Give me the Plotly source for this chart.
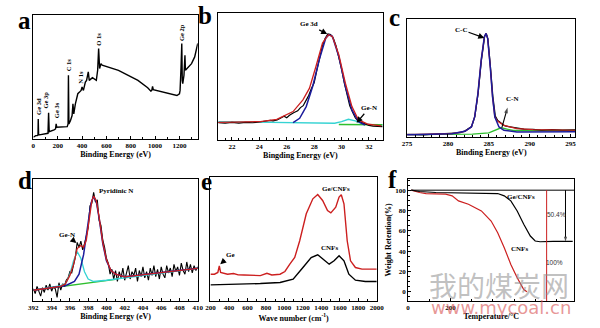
import plotly.graph_objects as go

# ---------------- (a) XPS survey ----------------
a_x = [0, 19, 32, 38, 40, 43, 60, 112, 120, 125, 130, 170, 182, 187, 192, 278, 285, 288, 292,
       305, 318, 325, 332, 345, 352, 365, 379, 392, 400, 411, 427, 437, 451, 459, 485, 499, 517,
       528, 536, 544, 555, 565, 619, 699, 779, 859, 939, 965, 972, 979, 985, 1072, 1152, 1179,
       1200, 1205, 1213, 1219, 1223, 1227, 1237, 1245, 1249, 1272, 1299, 1325, 1339, 1350]
a_y = [1.4, 2.7, 2.7, 3.2, 16.2, 3.2, 3.5, 4.1, 4.6, 21.1, 5.9, 7.3, 8.1, 12.2, 9.5, 10, 12.2, 51.4, 12.2,
       14.9, 18.9, 28.4, 20.3, 28.4, 31.1, 36.5, 37.8, 39.2, 41.9, 39.2, 45.9, 47.3, 54.1, 47.3, 49.5, 48.6, 47.3,
       55.4, 73.0, 56.8, 60.8, 59.5, 58.1, 55.4, 51.4, 47.3, 41.4, 38.6, 39.0, 42.4, 39.7, 37.8, 35.9, 35.1,
       36.5, 39.2, 58.1, 77.0, 47.3, 44.6, 51.4, 67.6, 55.4, 58.1, 60.8, 66.2, 73.0, 77.0]
a_peaks = ["Ge 3d", "Ge 3p", "Ge 3s", "C 1s", "N 1s", "O 1s", "Ge 2p"]
a_peak_x = [40, 100, 192, 285, 387, 539, 1213]
a_peak_y = [17.6, 23.0, 15.0, 52.7, 43.0, 74.0, 77.0]

# ---------------- (b) Ge 3d ----------------
b_data_x = [21.0, 21.5, 22.0, 22.5, 23.0, 23.5, 24.0, 24.4, 24.8, 25.0, 25.3, 25.6, 25.8, 26.0, 26.2,
            26.5, 26.8, 27.0, 27.2, 27.4, 27.6, 27.8, 28.0, 28.2, 28.4, 28.6, 28.8, 29.0, 29.2, 29.4,
            29.6, 29.8, 30.0, 30.2, 30.4, 30.6, 30.8, 31.0, 31.2, 31.5, 31.8, 32.0, 32.3, 32.6, 33.0]
b_data_y = [13.7, 13.2, 13.9, 13.3, 13.8, 13.6, 14.2, 14.6, 15.5, 15.0, 15.8, 17.5, 18.8, 17.5, 19.5,
            21.5, 23.0, 25.5, 27.0, 31.0, 35.0, 40.5, 45.0, 55.0, 65.0, 74.0, 80.0, 83.5, 83.0, 80.0,
            74.0, 66.0, 56.0, 45.0, 35.0, 27.0, 22.0, 17.5, 15.0, 13.5, 12.5, 11.5, 11.0, 10.8, 10.5]
b_fit_x = [20.97, 24.08, 25.27, 26.46, 27.18, 27.66, 28.13, 28.61, 29.04, 29.33, 29.80, 30.28, 30.76,
           31.24, 31.95, 32.91]
b_fit_y = [13.9, 14.5, 16.3, 22.4, 31.6, 40.8, 57.9, 76.3, 82.9, 81.6, 67.1, 44.7, 26.3, 15.8, 12.4, 11.1]
b_ge_x = [26.46, 26.94, 27.42, 27.89, 28.37, 28.85, 29.09, 29.33, 29.80, 30.28, 30.76, 31.24, 31.71]
b_ge_y = [13.7, 17.1, 26.3, 42.1, 63.2, 80.3, 82.9, 81.6, 65.8, 42.1, 23.7, 14.5, 11.8]
b_gen_x = [21.0, 28.0, 29.5, 30.0, 30.5, 31.0, 31.5, 32.0, 33.0]
b_gen_y = [14.5, 13.0, 13.2, 14.5, 16.3, 15.0, 13.0, 12.3, 11.8]
b_bg_x = [29.8, 31.0, 33.0]
b_bg_y = [12.2, 12.3, 12.0]

# ---------------- (c) C 1s ----------------
c_cc_x = [275.0, 280.49, 282.08, 282.87, 283.27, 283.67, 284.07, 284.46, 284.66, 284.86, 285.18,
          285.46, 285.74, 286.25, 286.85, 288.44, 295.6]
c_cc_y = [2.0, 2.8, 4.8, 8.5, 17.0, 36.8, 65.2, 85.0, 87.8, 83.6, 59.5, 34.0, 17.0, 8.5, 5.7, 4.2, 4.5]
c_fit_x = [275.0, 280.49, 282.08, 282.87, 283.27, 283.67, 284.07, 284.46, 284.66, 284.86, 285.18,
           285.46, 285.74, 286.05, 286.85, 288.44, 290.43, 295.6]
c_fit_y = [2.0, 2.8, 4.8, 8.5, 17.0, 36.8, 65.2, 85.0, 87.8, 83.6, 59.5, 34.0, 17.0, 13.6, 9.9, 7.1, 6.2, 5.7]
c_data_x = [275.0, 277.0, 279.0, 280.5, 281.5, 282.1, 282.9, 283.3, 283.7, 284.1, 284.5, 284.7, 284.9,
            285.2, 285.5, 285.8, 286.1, 286.5, 287.0, 287.6, 288.4, 289.3, 290.4, 291.5, 292.7, 294.0, 295.6]
c_data_y = [2.3, 1.8, 2.6, 3.0, 3.6, 5.2, 8.9, 17.5, 37.2, 65.0, 85.4, 87.5, 83.0, 59.9, 34.5, 17.8, 14.0,
            11.8, 9.4, 8.6, 7.4, 6.6, 6.5, 5.9, 6.3, 5.8, 6.0]
c_cn_x = [275.0, 283.0, 285.0, 286.0, 286.5, 287.0, 288.0, 290.0, 295.6]
c_cn_y = [2.0, 2.5, 3.5, 6.0, 7.8, 7.0, 5.5, 5.5, 5.6]

# ---------------- (d) N 1s ----------------
d_data_x = [392.0, 392.2, 392.4, 392.6, 392.8, 393.0, 393.2, 393.4, 393.6, 393.8, 394.0, 394.2, 394.4,
            394.6, 394.8, 395.0, 395.2, 395.4, 395.6, 395.8, 396.0, 396.2, 396.4, 396.6, 396.8, 397.0,
            397.2, 397.4, 397.6, 397.8, 398.0, 398.2, 398.4, 398.6, 398.8, 399.0, 399.2, 399.4, 399.6,
            399.8, 400.0, 400.2, 400.4, 400.6, 400.8, 401.0, 401.2, 401.4, 401.6, 401.8, 402.0, 402.2,
            402.4, 402.6, 402.8, 403.0, 403.2, 403.4, 403.6, 403.8, 404.0, 404.2, 404.4, 404.6, 404.8,
            405.0, 405.2, 405.4, 405.6, 405.8, 406.0, 406.2, 406.4, 406.6, 406.8, 407.0, 407.2, 407.4,
            407.6, 407.8, 408.0, 408.2, 408.4, 408.6, 408.8, 409.0, 409.2, 409.4, 409.6, 409.8, 410.0]
d_data_y = [10, 6, 12, 8, 4, 11, 7, 13, 9, 14, 8, 12, 10, 3, 15, 9, 14, 12, 17, 19, 24, 23, 31, 36, 48, 44,
            49, 42, 47, 55, 60, 78, 80, 89, 81, 83, 66, 62, 50, 44, 35, 31, 22, 26, 18, 25, 16, 24, 19, 27,
            17, 23, 29, 18, 24, 21, 27, 16, 25, 20, 28, 19, 24, 17, 27, 21, 29, 20, 26, 18, 28, 22, 19, 29,
            23, 27, 20, 30, 24, 28, 21, 31, 25, 22, 32, 24, 30, 23, 29, 25, 28]
d_fit_x = [392.0, 395.0, 395.5, 396.0, 396.4, 396.8, 397.2, 397.5, 397.8, 398.1, 398.4, 398.6, 398.9,
           399.2, 399.6, 400.0, 400.5, 401.0, 402.0, 410.0]
d_fit_y = [8.8, 12.0, 14.0, 21.0, 30.0, 43.0, 45.5, 44.0, 50.0, 67.0, 82.0, 86.0, 82.0, 69.0, 48.0, 34.0,
           25.0, 22.0, 19.8, 26.8]
d_pyr_x = [392.0, 395.5, 396.5, 397.0, 397.5, 398.0, 398.3, 398.6, 398.9, 399.2, 399.6, 400.0, 400.5,
           401.0, 402.0, 410.0]
d_pyr_y = [8.8, 12.5, 16.0, 22.0, 38.0, 65.0, 80.0, 85.8, 81.0, 68.0, 47.0, 33.0, 25.0, 22.0, 19.8, 26.8]
d_gen_x = [392.0, 395.0, 395.6, 396.0, 396.4, 396.8, 397.2, 397.6, 398.0, 398.6, 400.0, 410.0]
d_gen_y = [8.8, 12.5, 15.0, 22.0, 33.0, 40.5, 35.0, 24.0, 18.0, 16.0, 17.0, 26.8]
d_bg_x = [392.0, 401.0]
d_bg_y = [8.8, 17.8]

# ---------------- (e) Raman ----------------
e_gecnf_x = [200, 243, 280, 296, 310, 349, 385, 450, 500, 562, 650, 740, 811, 864, 953, 1006, 1059, 1112,
             1166, 1237, 1308, 1361, 1414, 1467, 1503, 1556, 1592, 1616, 1645, 1680, 1716, 1769, 1840, 1920, 2000]
e_gecnf_y = [21.6, 21.6, 23.0, 28.4, 23.0, 22.0, 21.6, 22.2, 21.1, 21.0, 20.5, 20.5, 22.4, 21.0, 21.6, 23.8,
             29.7, 35.1, 48.6, 70.3, 82.4, 85.9, 81.1, 73.0, 71.1, 75.7, 83.8, 85.7, 78.4, 48.6, 32.4, 27.0,
             25.7, 25.4, 25.7]
e_cnf_x = [200, 500, 740, 953, 1095, 1201, 1290, 1361, 1414, 1485, 1538, 1592, 1645, 1698, 1769, 1876, 2000]
e_cnf_y = [13.0, 13.5, 14.1, 14.9, 17.6, 27.0, 35.1, 37.3, 33.8, 29.7, 32.4, 36.5, 32.4, 21.6, 16.8, 15.7, 15.7]

# ---------------- (f) TGA ----------------
f_gecnf_x = [15, 54, 131, 361, 423, 454, 485, 515, 546, 577, 600, 623, 654, 685, 777]
f_gecnf_y = [100, 98.7, 97.7, 97.4, 96.7, 94.4, 89.5, 79.6, 66.4, 54.9, 50.0, 49.3, 49.6, 49.6, 49.6]
f_cnf_x = [15, 54, 85, 177, 208, 238, 285, 346, 392, 423, 454, 485, 515, 531, 546, 561]
f_cnf_y = [100, 97.7, 96.7, 96.1, 94.4, 89.5, 86.2, 79.6, 69.7, 58.2, 43.4, 27.0, 13.8, 7.2, 2.3, 0.0]
f_loss_gecnf = 50.4
f_loss_cnf = 100

W, H = 600, 328
SERIF = "Liberation Serif"
RED, BLUE, CYAN, GREEN = "#cc1f1f", "#1c1c9c", "#35d3d3", "#2fbf2f"


def px(x):
    return x / W


def py(y):
    return 1 - y / H


def xaxis(x0, x1, rng, ticks, title, anchor, minor_dtick=None):
    minor = dict(ticks="inside", ticklen=2, tickcolor="black")
    if minor_dtick:
        minor.update(dtick=minor_dtick, tick0=0)
    return dict(domain=[px(x0), px(x1)], range=rng, tickvals=ticks, anchor=anchor,
                showline=True, mirror=True, linecolor="black", linewidth=1,
                ticks="inside", ticklen=3, tickcolor="black", minor=minor,
                tickfont=dict(family=SERIF, size=7, color="black", weight="bold"),
                showgrid=False, zeroline=False,
                title=dict(text=title, standoff=1,
                           font=dict(family=SERIF, size=8, color="black", weight="bold")))


def yaxis(y0, y1, rng, anchor, **kw):
    d = dict(domain=[py(y1), py(y0)], range=rng, anchor=anchor,
             showline=True, mirror=True, linecolor="black", linewidth=1,
             showticklabels=False, ticks="", showgrid=False, zeroline=False)
    d.update(kw)
    return d


fig = go.Figure()


def refs(n):
    return ("x" if n == 1 else f"x{n}"), ("y" if n == 1 else f"y{n}")


def line(x, y, color, n, width=1.3):
    ax, ay = refs(n)
    fig.add_trace(go.Scatter(x=x, y=y, mode="lines", line=dict(color=color, width=width),
                             xaxis=ax, yaxis=ay, showlegend=False, hoverinfo="skip"))


def arrow(x, y, n, color="black", width=1.1, head=6):
    # straight line ending in an arrowhead at the last point
    ax, ay = refs(n)
    fig.add_trace(go.Scatter(x=x, y=y, mode="lines+markers", line=dict(color=color, width=width),
                             marker=dict(symbol="arrow", size=[0, head], angleref="previous",
                                         color=color, line=dict(width=0)),
                             xaxis=ax, yaxis=ay, showlegend=False, hoverinfo="skip"))


# (a)
line(a_x, a_y, "black", 1, 1.4)
# (b)
line(b_gen_x, b_gen_y, CYAN, 2)
line(b_bg_x, b_bg_y, GREEN, 2)
line(b_data_x, b_data_y, "black", 2, 1.2)
line(b_ge_x, b_ge_y, BLUE, 2, 1.5)
line(b_fit_x, b_fit_y, RED, 2, 1.3)
# (c)
line(c_cn_x, c_cn_y, GREEN, 3)
line(c_data_x, c_data_y, "black", 3, 1.2)
line(c_fit_x, c_fit_y, RED, 3, 1.2)
line(c_cc_x, c_cc_y, BLUE, 3, 1.5)
# (d)
line(d_bg_x, d_bg_y, GREEN, 4)
line(d_data_x, d_data_y, "black", 4, 1.1)
line(d_gen_x, d_gen_y, CYAN, 4, 1.3)
line(d_pyr_x, d_pyr_y, BLUE, 4, 1.5)
line(d_fit_x, d_fit_y, RED, 4, 1.3)
# (e)
line(e_cnf_x, e_cnf_y, "black", 5, 1.4)
line(e_gecnf_x, e_gecnf_y, RED, 5, 1.4)
# (f)
line(f_cnf_x, f_cnf_y, RED, 6, 1.2)
line(f_gecnf_x, f_gecnf_y, "black", 6, 1.2)

# arrow from the C-N component up to its label
arrow([286.6, 287.3], [8, 25], 3)
# weight-loss arrow for Ge/CNFs
arrow([743, 743], [100, f_gecnf_y[-1]], 6, width=1, head=5)

fig.update_layout(
    width=W, height=H, margin=dict(l=0, r=0, t=0, b=0),
    paper_bgcolor="white", plot_bgcolor="white", showlegend=False,
    xaxis=xaxis(29, 197, [0, 1350], [0, 200, 400, 600, 800, 1000, 1200],
                "Binding Energy (eV)", "y"),
    yaxis=yaxis(15, 139, [0, 100], "x"),
    xaxis2=xaxis(218, 386, [21, 33], [22, 24, 26, 28, 30, 32],
                 "Bingding Energy (eV)", "y2"),
    yaxis2=yaxis(13, 140, [0, 100], "x2"),
    xaxis3=xaxis(411, 583, [275, 295.6], [275, 280, 285, 290, 295],
                 "Binding Energy (eV)", "y3"),
    yaxis3=yaxis(19, 137, [0, 100], "x3"),
    xaxis4=xaxis(29, 197, [392, 410], list(range(392, 411, 2)),
                 "Binding Energy (eV)", "y4"),
    yaxis4=yaxis(179, 301, [0, 100], "x4"),
    xaxis5=xaxis(210, 380, [200, 2000], list(range(200, 2001, 200)),
                 "Wave number (cm<sup>-1</sup>)", "y5"),
    yaxis5=yaxis(177, 301, [0, 100], "x5"),
    xaxis6=xaxis(412, 582, [0, 785], [0, 200], "Temperature/°C", "y6", minor_dtick=100),
    yaxis6=yaxis(179, 301, [-9, 111], "x6", showticklabels=True, ticks="inside", ticklen=3,
                 tickcolor="black", tickvals=[0, 20, 40, 60, 80, 100],
                 minor=dict(ticks="inside", ticklen=2, tickcolor="black"),
                 tickfont=dict(family=SERIF, size=7, color="black", weight="bold"),
                 title=dict(text="Weight Retention(%)", standoff=2,
                            font=dict(family=SERIF, size=8, color="black", weight="bold"))),
)

ann = []
# panel letters
for letter, (lx, ly) in zip("abcdef", [(20, 20), (204, 15), (398, 17), (20, 180), (206, 181), (396, 179)]):
    ann.append(dict(text=f"<b>{letter}</b>", x=px(lx), y=py(ly), xref="paper", yref="paper",
                    showarrow=False, xanchor="center", yanchor="middle",
                    font=dict(family=SERIF, size=25, color="black")))

# survey peak labels
for name, xx, yy in zip(a_peaks, a_peak_x, a_peak_y):
    ann.append(dict(text=f"<b>{name}</b>", x=xx, y=yy, xref="x", yref="y", showarrow=False,
                    textangle=-90, xanchor="center", yanchor="bottom",
                    font=dict(family=SERIF, size=6.5, color="black")))

LBL = dict(family=SERIF, size=7, color="black")


def arrow_label(text, n, hx, hy, tx, ty):
    ax, ay = refs(n)
    ann.append(dict(text=f"<b>{text}</b>", x=hx, y=hy, xref=ax, yref=ay, axref=ax, ayref=ay,
                    ax=tx, ay=ty, showarrow=True, arrowhead=2, arrowsize=1, arrowwidth=1.2,
                    arrowcolor="black", font=LBL))


def label(text, n, x, y, **kw):
    ax, ay = refs(n)
    d = dict(text=text, x=x, y=y, xref=ax, yref=ay, showarrow=False, font=LBL)
    d.update(kw)
    ann.append(d)


arrow_label("Ge 3d", 2, 28.95, 83.5, 27.6, 91)
arrow_label("Ge-N", 2, 31.1, 13.5, 32.0, 25)
arrow_label("C-C", 3, 284.45, 84, 281.6, 91)
label("<b>C-N</b>", 3, 287.9, 32.5)
arrow_label("Pyridinic N", 4, 399.0, 86.5, 401.0, 90.5)
arrow_label("Ge-N", 4, 396.7, 47.5, 395.7, 54)
arrow_label("Ge", 5, 306, 29.7, 420, 37.3)
label("<b>Ge/CNFs</b>", 5, 1556, 90)
label("<b>CNFs</b>", 5, 1485, 42.5)
label("<b>Ge/CNFs</b>", 6, 535, 93.5)
label("<b>CNFs</b>", 6, 525, 42.5)
label(f"{f_loss_gecnf}%", 6, 700, 76, font=dict(family="Liberation Sans", size=6.5, color="#333"))
label(f"{f_loss_cnf}%", 6, 692, 29, font=dict(family="Liberation Sans", size=6.5, color="#333"))

# site watermark
ann.append(dict(text="我的煤炭网", x=px(505), y=py(285), xref="paper", yref="paper",
                showarrow=False, xanchor="center", yanchor="middle",
                font=dict(family="Noto Sans CJK SC", size=28, color="rgba(140,140,140,0.55)")))
ann.append(dict(text="www.mycoal.cn", x=px(507), y=py(307), xref="paper", yref="paper",
                showarrow=False, xanchor="center", yanchor="middle",
                font=dict(family="DejaVu Sans", size=18, color="rgba(215,80,80,0.6)")))

fig.update_layout(annotations=ann)

# reference lines on the TGA panel
fig.add_shape(type="line", xref="x6", yref="y6", x0=15, x1=785, y0=100, y1=100,
              line=dict(color="black", width=1))
fig.add_shape(type="line", xref="x6", yref="y6", x0=654, x1=654, y0=100, y1=-9,
              line=dict(color=RED, width=1))

fig.write_html("out.html")
